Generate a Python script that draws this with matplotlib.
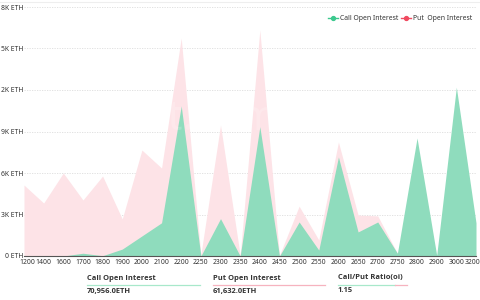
import matplotlib
matplotlib.use("Agg")
import matplotlib.pyplot as plt
from matplotlib.lines import Line2D
import matplotlib.transforms as mtransforms

plt.rcParams['font.family'] = ['Noto Sans', 'DejaVu Sans']

strikes = ["1200", "1400", "1600", "1700", "1800", "1900", "2000", "2100", "2200", "2250",
           "2300", "2350", "2400", "2450", "2500", "2550", "2600", "2650", "2700", "2750",
           "2800", "2900", "3000", "3200"]
call_oi = [0, 0, 0, 200, 20, 500, 1450, 2400, 10850, 0,
           2700, 0, 9350, 0, 2460, 430, 7160, 1740, 2460, 200,
           8530, 50, 12200, 2400]
put_oi = [5130, 3830, 6000, 4050, 5780, 2680, 7660, 6360, 15760, 100,
          9470, 50, 16340, 50, 3600, 1160, 8240, 2960, 2900, 200,
          800, 40, 500, 300]
y_ticks = [0, 3000, 6000, 9000, 12000, 15000, 18000]
y_labels = ["0 ETH", "3K ETH", "6K ETH", "9K ETH", "12K ETH", "15K ETH", "18K ETH"]

green_fill = "#8fdcbd"
pink_fill = "#fde3e7"
green_line = "#3cc98e"
red_line = "#f04a60"

fig = plt.figure(figsize=(4.8, 3.0), dpi=100)
ax = fig.add_axes([24 / 480, 1 - 256 / 300, 452 / 480, 249 / 300])
x = list(range(len(strikes)))
ax.fill_between(x, put_oi, 0, color=pink_fill, linewidth=0, zorder=1)
ax.fill_between(x, call_oi, 0, color=green_fill, linewidth=0, zorder=2)

ax.set_xlim(0, len(strikes) - 1)
ax.set_ylim(0, 18000)
ax.set_xticks(x)
ax.set_xticklabels(strikes)
ax.set_yticks(y_ticks)
ax.set_yticklabels(y_labels)
ax.tick_params(axis='x', length=0, labelsize=4.9, colors="#333333", pad=2.5)
ax.tick_params(axis='y', length=0, labelsize=4.9, colors="#333333", pad=0.5)
ax.yaxis.grid(True, linestyle=(0, (1.5, 1.5)), color="#dddddd", linewidth=0.6, zorder=0)
ax.set_axisbelow(True)
for s in ["top", "right", "left"]:
    ax.spines[s].set_visible(False)
ax.spines["bottom"].set_color("#555555")
ax.spines["bottom"].set_linewidth(0.8)
ax.spines["bottom"].set_zorder(5)

# shift edge tick labels inward like the reference
xt = ax.get_xticklabels()
xt[0].set_transform(xt[0].get_transform() + mtransforms.ScaledTranslation(3 / 100, 0, fig.dpi_scale_trans))
xt[-1].set_transform(xt[-1].get_transform() + mtransforms.ScaledTranslation(-3 / 100, 0, fig.dpi_scale_trans))

# watermark
ax.text(0.36, 0.55, "bybt.com", transform=ax.transAxes, fontsize=30, color="#ffffff",
        alpha=0.18, fontweight="bold", ha="center", va="center", zorder=3)

# top border line
fig.add_artist(Line2D([0, 1], [1 - 2 / 300, 1 - 2 / 300], color="#eeeeee", linewidth=0.8))

# legend
def legend_item(xm, text, color):
    y = 1 - 18 / 300
    fig.add_artist(Line2D([xm / 480 - 5 / 480, xm / 480 + 5 / 480], [y, y], color=color, linewidth=1.0))
    fig.add_artist(Line2D([xm / 480], [y], marker='o', markersize=2.8, color=color,
                          markeredgecolor=color, linestyle='none'))
    fig.text((xm + 7) / 480, y, text, fontsize=4.9, color="#333333", va="center", ha="left")

legend_item(333, "Call Open Interest", green_line)
legend_item(406, "Put  Open Interest", red_line)

# summary below
def summary(x0, x1, title, value, colors):
    fig.text(x0 / 480, 1 - 278 / 300, title, fontsize=5.4, fontweight="bold",
             family=["Open Sans", "DejaVu Sans"], color="#333333", va="center", ha="left")
    yl = [1 - 284.5 / 300] * 2
    if len(colors) == 1:
        fig.add_artist(Line2D([x0 / 480, x1 / 480], yl, color=colors[0], linewidth=0.9))
    else:
        xm = x0 + (x1 - x0) * 0.82
        fig.add_artist(Line2D([x0 / 480, xm / 480], yl, color=colors[0], linewidth=0.9))
        fig.add_artist(Line2D([xm / 480, x1 / 480], yl, color=colors[1], linewidth=0.9))
    fig.text(x0 / 480, 1 - 291 / 300, value, fontsize=5.4, fontweight="bold",
             family=["Open Sans", "DejaVu Sans"], color="#333333", va="center", ha="left")

summary(87, 200, "Call Open Interest", "70,956.0ETH", ["#a8e8cb"])
summary(213, 325, "Put Open Interest", "61,632.0ETH", ["#f6b3bf"])
summary(338, 407, "Call/Put Ratio(oi)", "1.15", ["#a8e8cb", "#f6b3bf"])

fig.savefig("out.png", dpi=100)
